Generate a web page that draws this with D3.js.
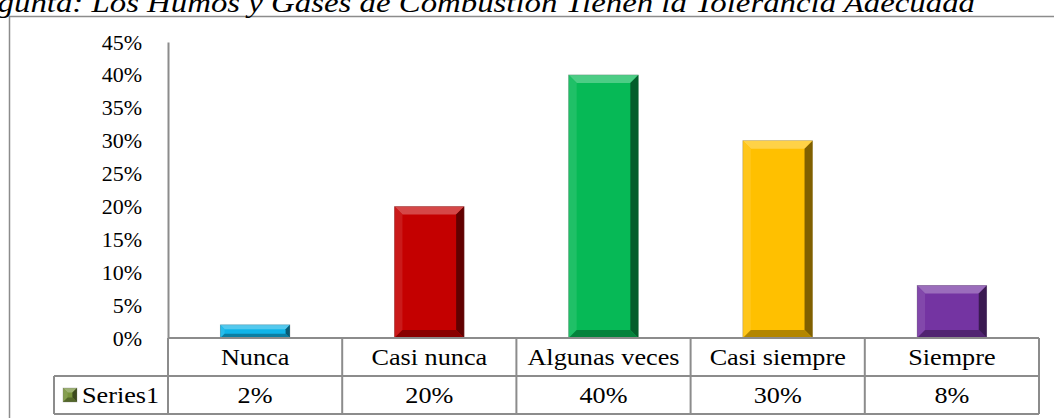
<!DOCTYPE html>
<html>
<head>
<meta charset="utf-8">
<script src="https://cdn.jsdelivr.net/npm/d3@7"></script>
<style>
  body { margin: 0; background: #fff; }
  svg { display: block; font-family: "Liberation Serif", "Times New Roman", serif; }
</style>
</head>
<body>
<div class="chart"></div>
<script>
// chart data
var categories = ["Nunca", "Casi nunca", "Algunas veces", "Casi siempre", "Siempre"];
var values = [0.02, 0.20, 0.40, 0.30, 0.08];
var valueLabels = ["2%", "20%", "40%", "30%", "8%"];
var yTicks = [0, 0.05, 0.10, 0.15, 0.20, 0.25, 0.30, 0.35, 0.40, 0.45];
var seriesName = "Series1";
var titlePrefix = "Pre";
var titleText = "Pregunta: Los Humos y Gases de Combustión Tienen la Tolerancia Adecuada";

var barColors = ["#10b4e8", "#c40000", "#06b956", "#ffc000", "#7434a2"];
var keyColor = "#77933c";
var lineColor = "#8c8c8c";

var svgWidth = 1054;
var svgHeight = 418;
var textStretch = 1.14;   // the reference text is a bit wider than plain Times

var svg = d3.select(".chart")
  .append("svg")
  .attr("width", svgWidth)
  .attr("height", svgHeight);

// outer chart border (runs off the right and bottom edges)
svg.append("rect")
  .attr("x", 9.5)
  .attr("y", 16.5)
  .attr("width", 1100)
  .attr("height", 500)
  .attr("fill", "none")
  .attr("stroke", lineColor)
  .attr("stroke-width", 1.5);

// title, clipped at the top left
var title = svg.append("text")
  .attr("text-anchor", "end")
  .style("font-style", "italic")
  .style("font-size", "28px")
  .text(titleText);

// fit so that "gunta..." starts at the left edge and ends near x=975
var fullLen = title.node().getComputedTextLength();
var pre = svg.append("text").style("font-style", "italic").style("font-size", "28px").text(titlePrefix);
var preLen = pre.node().getComputedTextLength();
pre.remove();
var titleScale = 978 / (fullLen - preLen);
title.attr("transform", "translate(975,12) scale(" + titleScale + ",1)");

// scales
var x = d3.scaleBand()
  .domain(categories)
  .range([168, 1039])
  .paddingInner(0.6)
  .paddingOuter(0.3);

var xCells = d3.scaleBand()
  .domain(categories)
  .range([168, 1039]);

var y = d3.scaleLinear()
  .domain([0, 0.45])
  .range([338, 42]);

// y axis
var yAxis = svg.append("g")
  .attr("transform", "translate(168,0)")
  .call(d3.axisLeft(y)
    .tickValues(yTicks)
    .tickSize(0)
    .tickPadding(26)
    .tickFormat(d3.format(".0%")));

yAxis.select(".domain")
  .attr("stroke", lineColor)
  .attr("stroke-width", 2);

yAxis.selectAll("text")
  .attr("fill", "#000")
  .style("font-family", "Liberation Serif, Times New Roman, serif")
  .style("font-size", "22px");

// bevelled bars
function shade(color, t) {
  return t > 0 ? d3.interpolateRgb(color, "#ffffff")(t) : d3.interpolateRgb(color, "#000000")(-t);
}

function bevelBar(g, x0, y0, w, h, color) {
  var x1 = x0 + w, y1 = y0 + h;
  var b = Math.min(8, h * 0.33);
  g.append("rect")
    .attr("x", x0).attr("y", y0).attr("width", w).attr("height", h)
    .attr("fill", color);
  g.append("polygon")
    .attr("points", [[x0, y0], [x1, y0], [x1 - b, y0 + b], [x0 + b, y0 + b]].join(" "))
    .attr("fill", shade(color, 0.28));
  g.append("polygon")
    .attr("points", [[x0, y0], [x0 + b, y0 + b], [x0 + b, y1 - b], [x0, y1]].join(" "))
    .attr("fill", shade(color, 0.1));
  g.append("polygon")
    .attr("points", [[x1, y0], [x1 - b, y0 + b], [x1 - b, y1 - b], [x1, y1]].join(" "))
    .attr("fill", shade(color, -0.5));
  g.append("polygon")
    .attr("points", [[x0, y1], [x1, y1], [x1 - b, y1 - b], [x0 + b, y1 - b]].join(" "))
    .attr("fill", shade(color, -0.3));
  g.append("rect")
    .attr("x", x0).attr("y", y0).attr("width", w).attr("height", h)
    .attr("fill", "none")
    .attr("stroke", "rgba(120,120,120,0.5)")
    .attr("stroke-width", 0.6);
}

var barsGroup = svg.append("g");
categories.forEach(function (cat, i) {
  var top = y(values[i]);
  bevelBar(barsGroup, x(cat), top, x.bandwidth(), y(0) - top, barColors[i]);
});

// data table under the plot
var table = svg.append("g")
  .attr("stroke", lineColor)
  .attr("stroke-width", 2);

var rowTop = 338, rowMid = 376, rowBottom = 414;
var tableLeft = 54, tableRight = xCells.range()[1];

table.append("line").attr("x1", 168).attr("x2", tableRight).attr("y1", rowTop).attr("y2", rowTop);
table.append("line").attr("x1", tableLeft).attr("x2", tableRight).attr("y1", rowMid).attr("y2", rowMid);
table.append("line").attr("x1", tableLeft).attr("x2", tableRight).attr("y1", rowBottom).attr("y2", rowBottom);
table.append("line").attr("x1", tableLeft).attr("x2", tableLeft).attr("y1", rowMid).attr("y2", rowBottom);
table.append("line").attr("x1", 168).attr("x2", 168).attr("y1", rowTop).attr("y2", rowBottom);
categories.forEach(function (cat) {
  var xr = xCells(cat) + xCells.bandwidth();
  table.append("line").attr("x1", xr).attr("x2", xr).attr("y1", rowTop).attr("y2", rowBottom);
});

svg.selectAll(".cat-label")
  .data(categories)
  .enter()
  .append("text")
  .attr("class", "cat-label")
  .attr("transform", d => "translate(" + (xCells(d) + xCells.bandwidth() / 2) + ",365) scale(" + textStretch + ",1)")
  .attr("text-anchor", "middle")
  .style("font-size", "23px")
  .text(d => d);

svg.selectAll(".val-label")
  .data(valueLabels)
  .enter()
  .append("text")
  .attr("class", "val-label")
  .attr("transform", (d, i) => "translate(" + (xCells(categories[i]) + xCells.bandwidth() / 2) + ",403) scale(" + textStretch + ",1)")
  .attr("text-anchor", "middle")
  .style("font-size", "23px")
  .text(d => d);

// legend key in the table
bevelBar(svg.append("g"), 63, 388, 14, 14, keyColor);
svg.append("text")
  .attr("transform", "translate(82,403) scale(" + textStretch + ",1)")
  .style("font-size", "23px")
  .text(seriesName);
</script>
</body>
</html>
